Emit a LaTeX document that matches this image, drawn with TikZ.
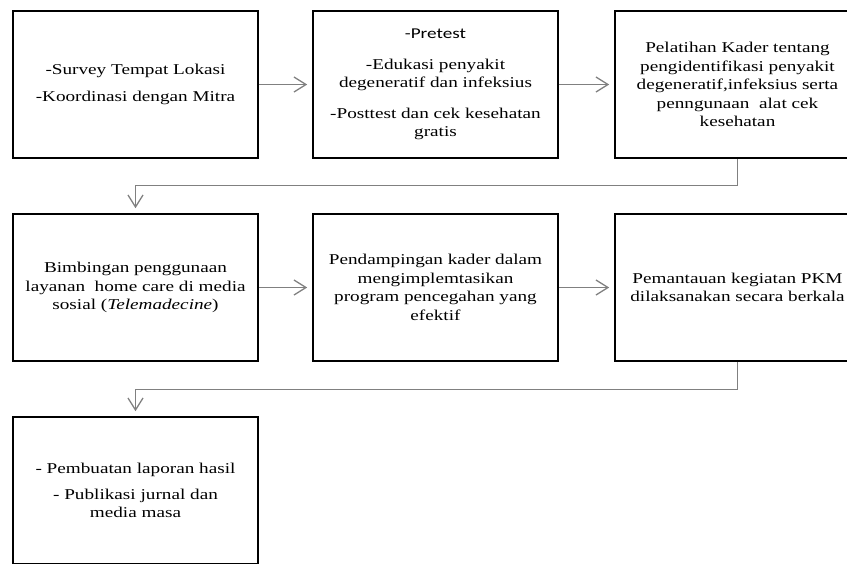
\documentclass[tikz,border=0pt]{standalone}
\usepackage{fontspec}
\setmainfont{Liberation Serif}[FakeStretch=1.28]
\newfontfamily\calfont{Carlito}[FakeStretch=1.28]
\usetikzlibrary{arrows.meta}
\definecolor{conncol}{RGB}{128,128,128}
\begin{document}
\begin{tikzpicture}[x=1pt,y=-1pt,
  box/.style={draw=black, line width=1.6pt, minimum width=245pt, minimum height=147pt,
    align=center, inner sep=4pt, font=\fontsize{15}{18.5}\selectfont},
  conn/.style={draw=conncol, line width=1.3pt,
    -{Straight Barb[length=12pt,width=15pt]}, shorten >=5pt}]
\useasboundingbox (0,0) rectangle (847,563);
\clip (0,0) rectangle (847,563);
% row 1
\node[box] (b1) at (135.5,84.5) {-Survey Tempat Lokasi\\[9pt]-Koordinasi dengan Mitra};
\node[box] (b2) at (435.5,84.5) {{\calfont -Pretest}\\[12pt]-Edukasi penyakit\\degeneratif dan infeksius\\[12pt]-Posttest dan cek kesehatan\\gratis};
\node[box] (b3) at (737.5,84.5) {Pelatihan Kader tentang\\pengidentifikasi penyakit\\degeneratif,infeksius serta\\penngunaan\ \ alat cek\\kesehatan};
% row 2
\node[box] (b4) at (135.5,287.5) {Bimbingan penggunaan\\layanan\ \ home care di media\\sosial (\textit{Telemadecine})};
\node[box] (b5) at (435.5,287.5) {Pendampingan kader dalam\\mengimplemtasikan\\program pencegahan yang\\efektif};
\node[box] (b6) at (737.5,287.5) {Pemantauan kegiatan PKM\\dilaksanakan\ secara berkala};
% row 3
\node[box] (b7) at (135.5,490.5) {- Pembuatan laporan hasil\\[7pt]- Publikasi jurnal dan\\media masa};
% connectors
\draw[conn] (b1.east) -- (b2.west);
\draw[conn] (b2.east) -- (b3.west);
\draw[conn] (b4.east) -- (b5.west);
\draw[conn] (b5.east) -- (b6.west);
\draw[conn] (b3.south) -- ++(0,27) -| (b4.north);
\draw[conn] (b6.south) -- ++(0,28) -| (b7.north);
\end{tikzpicture}
\end{document}
